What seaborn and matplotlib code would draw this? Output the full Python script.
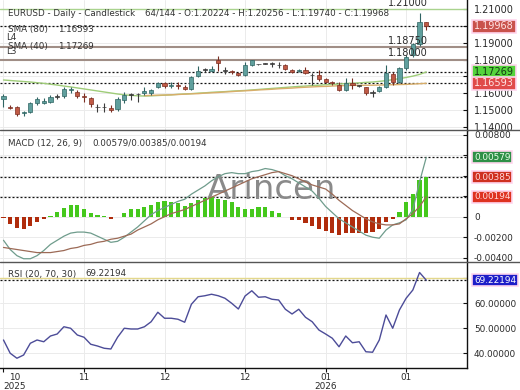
import numpy as np
import matplotlib
matplotlib.use("Agg")
import matplotlib.pyplot as plt
import matplotlib.transforms as mtrans
from matplotlib.lines import Line2D
from matplotlib.ticker import FuncFormatter
import seaborn as sns

# ---------------- data ----------------
opens = [1.1564, 1.1520, 1.1517, 1.1482, 1.1491, 1.1544, 1.1544, 1.1547, 1.1580, 1.1584,
         1.1619, 1.1610, 1.1584, 1.1570, 1.1521, 1.1517, 1.1511, 1.1505, 1.1560, 1.1590,
         1.1596, 1.1604, 1.1602, 1.1636, 1.1659, 1.1645, 1.1649, 1.1639, 1.1624, 1.1703,
         1.1738, 1.1734, 1.1800, 1.1738, 1.1732, 1.1722, 1.1709, 1.1766, 1.1772, 1.1775,
         1.1776, 1.1768, 1.1768, 1.1738, 1.1732, 1.1738, 1.1709, 1.1709, 1.1683, 1.1669,
         1.1652, 1.1622, 1.1660, 1.1645, 1.1637, 1.1603, 1.1614, 1.1637, 1.1715, 1.1667,
         1.1750, 1.1830, 1.1893, 1.20224]
highs = [1.1594, 1.1531, 1.1525, 1.1495, 1.1549, 1.1580, 1.1570, 1.1590, 1.1594, 1.1636,
         1.1636, 1.1620, 1.1600, 1.1580, 1.1537, 1.1544, 1.1531, 1.1576, 1.1606, 1.1604,
         1.1604, 1.1639, 1.1626, 1.1669, 1.1669, 1.1665, 1.1669, 1.1649, 1.1703, 1.1762,
         1.1748, 1.1762, 1.1821, 1.1754, 1.1740, 1.1728, 1.1784, 1.1798, 1.1776, 1.1779,
         1.1788, 1.1788, 1.1772, 1.1744, 1.1742, 1.1758, 1.1722, 1.1738, 1.1689, 1.1675,
         1.1665, 1.1688, 1.1690, 1.1649, 1.1640, 1.1617, 1.1643, 1.1768, 1.1728, 1.1756,
         1.1827, 1.1900, 1.2076, 1.20256]
lows = [1.1521, 1.1505, 1.1465, 1.1467, 1.1485, 1.1531, 1.1537, 1.1541, 1.1564, 1.1574,
        1.1600, 1.1570, 1.1550, 1.1517, 1.1491, 1.1491, 1.1491, 1.1497, 1.1544, 1.1560,
        1.1550, 1.1590, 1.1590, 1.1630, 1.1633, 1.1630, 1.1626, 1.1620, 1.1620, 1.1699,
        1.1728, 1.1728, 1.1734, 1.1715, 1.1712, 1.1703, 1.1703, 1.1760, 1.1768, 1.1771,
        1.1758, 1.1748, 1.1738, 1.1722, 1.1728, 1.1715, 1.1649, 1.1675, 1.1663, 1.1651,
        1.1615, 1.1612, 1.1626, 1.1640, 1.1590, 1.1580, 1.1608, 1.1632, 1.1652, 1.1661,
        1.1738, 1.1815, 1.1880, 1.19740]
closes = [1.1586, 1.1511, 1.1477, 1.1491, 1.1541, 1.1564, 1.1554, 1.1580, 1.1577, 1.1624,
          1.1624, 1.1586, 1.1576, 1.1537, 1.1517, 1.1521, 1.1501, 1.1564, 1.1590, 1.1594,
          1.1593, 1.1612, 1.1620, 1.1663, 1.1645, 1.1651, 1.1643, 1.1624, 1.1695, 1.1733,
          1.1740, 1.1742, 1.1782, 1.1735, 1.1725, 1.1709, 1.1770, 1.1795, 1.1774, 1.1776,
          1.1774, 1.1766, 1.1742, 1.1728, 1.1738, 1.1722, 1.1707, 1.1683, 1.1669, 1.1659,
          1.1622, 1.1660, 1.1648, 1.1643, 1.1602, 1.1601, 1.1637, 1.1721, 1.1670, 1.1750,
          1.1815, 1.1893, 1.2022, 1.19968]

sma40 = [1.1679, 1.1676, 1.1673, 1.1670, 1.1667, 1.1663, 1.1659, 1.1654, 1.1649, 1.1643,
         1.1638, 1.1632, 1.1626, 1.1620, 1.1614, 1.1608, 1.1602, 1.1596, 1.1591, 1.1588,
         1.1585, 1.1584, 1.1585, 1.1587, 1.1589, 1.1591, 1.1594, 1.1596, 1.1598, 1.1601,
         1.1603, 1.1606, 1.1608, 1.1610, 1.1613, 1.1615, 1.1617, 1.1620, 1.1623, 1.1626,
         1.1629, 1.1632, 1.1635, 1.1638, 1.1641, 1.1643, 1.1646, 1.1648, 1.1651, 1.1653,
         1.1655, 1.1658, 1.1660, 1.1662, 1.1665, 1.1667, 1.1671, 1.1675, 1.1681, 1.1687,
         1.1694, 1.1702, 1.1712, 1.17269]
sma80_start = 21
sma80 = [1.1586, 1.1588, 1.1589, 1.1590, 1.1591, 1.1593, 1.1595, 1.1597, 1.1598, 1.1601,
         1.1603, 1.1605, 1.1608, 1.1610, 1.1613, 1.1615, 1.1617, 1.1620, 1.1622, 1.1624,
         1.1627, 1.1629, 1.1631, 1.1634, 1.1636, 1.1638, 1.1640, 1.1641, 1.1643, 1.1645,
         1.1646, 1.1647, 1.1647, 1.1648, 1.1648, 1.1649, 1.1650, 1.1651, 1.1652, 1.1653,
         1.1655, 1.1657, 1.16593]

macd_line = [-0.0023, -0.0032, -0.0038, -0.0041, -0.0041, -0.0038, -0.0033, -0.0027, -0.0023, -0.0019,
             -0.0016, -0.0015, -0.0015, -0.0016, -0.0019, -0.0022, -0.0025, -0.0024, -0.0020, -0.0015,
             -0.0010, -0.0004, 0.0002, 0.0006, 0.0009, 0.0012, 0.0015, 0.0017, 0.0022, 0.0026,
             0.0030, 0.0035, 0.0039, 0.0042, 0.0043, 0.0042, 0.0042, 0.0044, 0.0045, 0.0047,
             0.0046, 0.0044, 0.0040, 0.0037, 0.0033, 0.0029, 0.0025, 0.0018, 0.0010, 0.0004,
             -0.0002, -0.0006, -0.0010, -0.0014, -0.0018, -0.0020, -0.0021, -0.0013, -0.0008, -0.0006,
             -0.0003, 0.0007, 0.0034, 0.00579]
macd_signal = [-0.0030, -0.0031, -0.0032, -0.0033, -0.0034, -0.0035, -0.0035, -0.0035, -0.0034, -0.0033,
               -0.0031, -0.0030, -0.0028, -0.0027, -0.0025, -0.0024, -0.0022, -0.0021, -0.0019, -0.0017,
               -0.0013, -0.0010, -0.0007, -0.0003, 0.0000, 0.0003, 0.0005, 0.0007, 0.0010, 0.0013,
               0.0016, 0.0019, 0.0022, 0.0025, 0.0028, 0.0031, 0.0034, 0.0037, 0.0039, 0.0041,
               0.0043, 0.0044, 0.0042, 0.0040, 0.0037, 0.0034, 0.0031, 0.0029, 0.0027, 0.0022,
               0.0016, 0.0011, 0.0006, 0.0002, -0.0002, -0.0005, -0.0007, -0.0008, -0.0008, -0.0007,
               -0.0002, 0.0003, 0.0010, 0.00194]
macd_hist = [-0.0001, -0.00067, -0.00107, -0.00123, -0.0009, -0.0005, -0.0002, 0.0001, 0.0005, 0.00087,
             0.00117, 0.0011, 0.0008, 0.0004, 0.0002, 0.0001, -0.0002, 0.0, 0.0004, 0.0008,
             0.0008, 0.0009, 0.0011, 0.0014, 0.0015, 0.0014, 0.0013, 0.0010, 0.0013, 0.0016,
             0.0018, 0.0019, 0.0017, 0.0016, 0.0014, 0.0009, 0.0008, 0.0008, 0.0009, 0.0009,
             0.0006, 0.0004, 0.0, -0.0003, -0.0003, -0.0006, -0.0009, -0.0012, -0.0014, -0.0016,
             -0.0018, -0.0016, -0.0016, -0.0016, -0.0016, -0.0015, -0.0012, -0.0005, -0.0002, 0.0005,
             0.0014, 0.0022, 0.0036, 0.00385]

rsi = [45.3, 40.0, 38.0, 39.3, 44.0, 45.3, 44.6, 46.9, 47.7, 50.6,
       50.0, 47.3, 46.4, 43.6, 42.9, 42.0, 41.7, 46.4, 50.0, 49.7,
       49.7, 50.6, 52.6, 56.4, 54.0, 54.0, 53.6, 52.4, 59.6, 62.6,
       63.0, 63.6, 63.0, 62.0, 60.0, 57.7, 62.9, 65.0, 62.4, 62.6,
       61.6, 61.3, 57.6, 55.7, 57.6, 54.4, 52.6, 49.3, 47.7, 46.0,
       42.6, 46.9, 44.2, 44.6, 40.6, 40.4, 45.3, 55.3, 50.0, 57.3,
       62.0, 65.3, 72.3, 69.22194]

tick_pos = [0, 12, 24, 36, 48, 60]
tick_labels = ["10\n2025", "11", "12", "12", "01\n2026", "01"]
price_ticks = [1.14, 1.15, 1.16, 1.17, 1.18, 1.19, 1.20, 1.21]
macd_ticks = [-0.004, -0.002, 0.0, 0.002, 0.004, 0.006, 0.008]
rsi_ticks = [40, 50, 60, 70]
level_top = 1.21
level_l4 = 1.1875
level_l3 = 1.18
rsi_upper = 70

# ---------------- figure ----------------
sns.set_theme(style="white")
plt.rcParams["font.family"] = ["DejaVu Sans"]
W, H = 520, 390
fig = plt.figure(figsize=(5.2, 3.9), dpi=100)
fig.patch.set_facecolor("white")

axw = 467 / W
axp = fig.add_axes([0, (H - 130.5) / H, axw, 130.5 / H])
axm = fig.add_axes([0, (H - 261.5) / H, axw, 131 / H])
axr = fig.add_axes([0, (H - 368) / H, axw, 106.5 / H])

idx = np.arange(len(closes))
txtc = "#2a2a2a"

for ax in (axp, axm, axr):
    ax.set_facecolor("white")
    for s in ("left", "top", "bottom"):
        ax.spines[s].set_visible(False)
    ax.spines["right"].set_visible(True)
    ax.spines["right"].set_color("#111111")
    ax.spines["right"].set_linewidth(1.0)
    ax.yaxis.tick_right()
    ax.tick_params(axis="y", which="both", right=True, left=False, labelright=True, labelleft=False,
                   direction="in", length=3, width=0.8, pad=5, colors="#111111", labelcolor=txtc)
    ax.grid(True, color="#ebebeb", linewidth=0.7)
    ax.set_axisbelow(True)

# ---------------- price panel ----------------
bull, bull_e = "#5f9f9d", "#2f6462"
bear, bear_e = "#c05a45", "#7a2e22"
doji = "#3c3c3c"
o = np.array(opens); c = np.array(closes); hi = np.array(highs); lo = np.array(lows)
body_col, edge_col = [], []
for oo, cc in zip(o, c):
    if abs(cc - oo) < 0.0004:
        body_col.append(doji); edge_col.append(doji)
    elif cc >= oo:
        body_col.append(bull); edge_col.append(bull_e)
    else:
        body_col.append(bear); edge_col.append(bear_e)
axp.vlines(idx, lo, hi, colors=edge_col, linewidth=0.8, zorder=3)
heights = np.maximum(np.abs(c - o), 0.00045)
bottoms = np.minimum(o, c)
axp.bar(idx, heights, bottom=bottoms, width=0.62, color=body_col, edgecolor=edge_col,
        linewidth=0.5, zorder=4)

sns.lineplot(x=idx, y=sma40, ax=axp, color="#9fcc78", linewidth=1.0, zorder=2, legend=False)
sns.lineplot(x=idx[sma80_start:], y=sma80, ax=axp, color="#d8ae6a", linewidth=1.0, zorder=2, legend=False)

dash = (0, (1.6, 1.6))
axp.axhline(level_top, color="#a9d38e", linewidth=1.0, zorder=1.5)
axp.axhline(level_l4, color="#a08e86", linewidth=1.5, zorder=1.5)
axp.axhline(level_l3, color="#a08e86", linewidth=1.5, zorder=1.5)
for v in (closes[-1], sma40[-1], sma80[-1]):
    axp.axhline(v, color="#111111", linewidth=0.9, linestyle=dash, zorder=1.6)

for v in (level_top, level_l4, level_l3):
    axp.annotate(f"{v:.5f}", xy=(63.2, v), xytext=(0, 1), textcoords="offset points",
                 ha="right", va="bottom", fontsize=7.0, color=txtc, zorder=6)

axp.set_ylim(1.13795, 1.21534)
axp.set_yticks(price_ticks)
axp.yaxis.set_major_formatter(FuncFormatter(lambda v, p: f"{v:.5f}"))
axp.tick_params(axis="y", labelsize=7.0)

# ---------------- MACD panel ----------------
hist_cols = ["#45c81c" if v >= 0 else "#b02c0c" for v in macd_hist]
axm.bar(idx, macd_hist, width=0.62, color=hist_cols, linewidth=0, zorder=3)
sns.lineplot(x=idx, y=macd_line, ax=axm, color="#6f9c8c", linewidth=0.9, zorder=4, legend=False)
sns.lineplot(x=idx, y=macd_signal, ax=axm, color="#9c6a56", linewidth=0.9, zorder=4, legend=False)
for v in (macd_line[-1], macd_hist[-1], macd_signal[-1]):
    axm.axhline(v, color="#111111", linewidth=0.9, linestyle=dash, zorder=2)
axm.text(0.582, 0.546, "Arincen", transform=axm.transAxes, fontsize=24.5, color="#8a8a8a",
         ha="center", va="center", zorder=2.5)
axm.set_ylim(-0.00437, 0.00841)
axm.set_yticks(macd_ticks)
axm.yaxis.set_major_formatter(FuncFormatter(lambda v, p: "0" if abs(v) < 1e-12 else f"{v:.5f}"))
axm.tick_params(axis="y", labelsize=6.4)

# ---------------- RSI panel ----------------
axr.axhline(rsi_upper, color="#e4d88c", linewidth=1.0, zorder=2)
axr.axhline(rsi[-1], color="#111111", linewidth=0.9, linestyle=dash, zorder=2)
sns.lineplot(x=idx, y=rsi, ax=axr, color="#4c4c98", linewidth=1.0, zorder=4, legend=False)
axr.set_ylim(34.1, 76.7)
axr.set_yticks(rsi_ticks)
axr.yaxis.set_major_formatter(FuncFormatter(lambda v, p: f"{v:.5f}"))
axr.tick_params(axis="y", labelsize=6.4)

# ---------------- shared x settings ----------------
for ax in (axp, axm, axr):
    ax.set_xlim(-0.52, 69.07)
    ax.set_xticks(tick_pos)
    ax.set_xlabel("")
    ax.set_ylabel("")
for ax in (axp, axm):
    ax.tick_params(axis="x", bottom=False, labelbottom=False)

axr.spines["bottom"].set_visible(True)
axr.spines["bottom"].set_color("#111111")
axr.spines["bottom"].set_linewidth(1.0)
axr.tick_params(axis="x", bottom=True, direction="out", length=3, width=0.8,
                labelsize=6.4, labelcolor=txtc, colors="#111111", pad=0.8)
axr.set_xticklabels(tick_labels)
for lab in axr.get_xticklabels():
    lab.set_linespacing(0.95)
    lab.set_multialignment("center")
axr.get_xticklabels()[0].set_horizontalalignment("left")

# ---------------- value boxes on the right axis ----------------
def value_box(ax, v, txt, bg, fg, size):
    tr = mtrans.blended_transform_factory(ax.transAxes, ax.transData)
    ax.text(1.0 + 7 / 467, v, txt, transform=tr, ha="left", va="center", fontsize=size,
            color=fg, clip_on=False, zorder=10,
            bbox=dict(boxstyle="square,pad=0.18", facecolor=bg, edgecolor="#ffd6ee", linewidth=1.2))

value_box(axp, closes[-1], f"{closes[-1]:.5f}", "#c9524c", "#ffe4e4", 7.0)
value_box(axp, sma40[-1], f"{sma40[-1]:.5f}", "#55d43c", "#143814", 7.0)
value_box(axp, sma80[-1], f"{sma80[-1]:.5f}", "#e04a4a", "#ffe4e4", 7.0)
value_box(axm, macd_line[-1], f"{macd_line[-1]:.5f}", "#2f8f47", "#e8ffe8", 6.4)
value_box(axm, macd_hist[-1], f"{macd_hist[-1]:.5f}", "#cf3020", "#ffd8d8", 6.4)
value_box(axm, macd_signal[-1], f"{macd_signal[-1]:.5f}", "#de3220", "#ffd8d8", 6.4)
value_box(axr, rsi[-1], f"{rsi[-1]:.5f}", "#1e1ec8", "#ffffff", 6.4)

# ---------------- legend texts ----------------
def ft(xp, yp, s, **kw):
    kw.setdefault("fontsize", 6.3)
    kw.setdefault("color", "#333333")
    fig.text(xp / W, 1 - yp / H, s, ha="left", va="center", **kw)

ft(8, 13, "EURUSD - Daily - Candlestick")
ft(145, 13, f"64/144 - O:{opens[-1]:.5f} - H:{highs[-1]:.5f} - L:{lows[-1]:.5f} - C:{closes[-1]:.5f}")
ft(8, 29.3, "SMA (80)")
ft(58, 29.3, f"{sma80[-1]:.5f}")
ft(6, 37.7, "L4")
ft(8, 46.7, "SMA (40)")
ft(58, 46.7, f"{sma40[-1]:.5f}")
ft(6, 51.7, "L3")
ft(8, 143.3, "MACD (12, 26, 9)")
ft(92, 143.3, f"{macd_line[-1]:.5f}/{macd_hist[-1]:.5f}/{macd_signal[-1]:.5f}")
ft(8, 274, "RSI (20, 70, 30)")
ft(85, 274, f"{rsi[-1]:.5f}")

# panel separators across the full width
for yp in (130.5, 261.5):
    fig.add_artist(Line2D([0, 1], [1 - yp / H, 1 - yp / H], transform=fig.transFigure,
                          color="#555555", linewidth=1.0, zorder=20))

fig.savefig("out.png", dpi=100, facecolor="white")
